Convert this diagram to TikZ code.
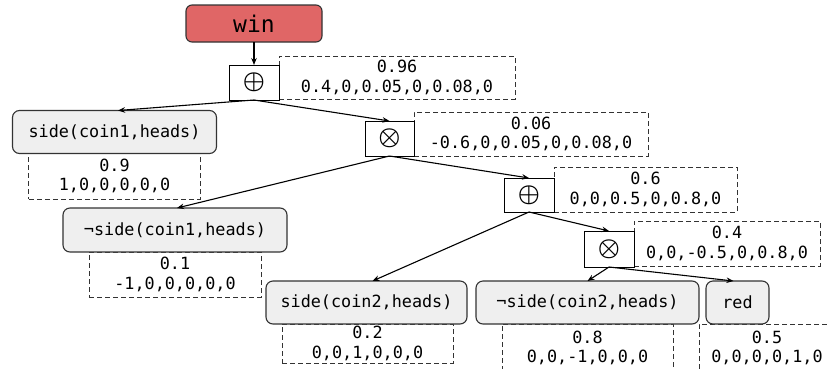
\documentclass[tikz,border=0pt]{standalone}
\usepackage{fontspec}
\usetikzlibrary{arrows.meta}
\newfontfamily\mono{DejaVu Sans Mono}
\definecolor{winred}{HTML}{E06666}
\definecolor{litgray}{HTML}{EFEFEF}
\definecolor{edgegray}{HTML}{333333}
\begin{document}
\begin{tikzpicture}[x=1bp,y=-1bp,
  base/.style={inner sep=0pt,outer sep=0pt,line width=1.1bp},
  lit/.style={base,draw=edgegray,fill=litgray,rounded corners=7bp,
     font=\mono\fontsize{16.8bp}{20bp}\selectfont},
  opbox/.style={base,line width=1bp,draw=black,fill=white,minimum width=50bp,minimum height=35bp,
     font=\fontsize{27bp}{27bp}\selectfont\boldmath},
  valbox/.style={base,line width=1bp,draw=edgegray,dash pattern=on 5bp off 3bp,align=center,
     font=\mono\fontsize{16.8bp}{19.5bp}\selectfont},
  conn/.style={line width=1.1bp,-{Stealth[length=7bp,width=5.5bp]}}
]
\useasboundingbox (0,0) rectangle (827,368);
\begin{scope}
\clip (0,0) rectangle (827,368);
% value boxes
\node[valbox,minimum width=236bp,minimum height=43bp] (d1) at (397,77.5) {0.96\\0.4,0,0.05,0,0.08,0};
\node[valbox,minimum width=234bp,minimum height=44bp] (d2) at (531,134) {0.06\\-0.6,0,0.05,0,0.08,0};
\node[valbox,minimum width=183bp,minimum height=45bp] (d3) at (645.5,189.5) {0.6\\0,0,0.5,0,0.8,0};
\node[valbox,minimum width=186bp,minimum height=45bp] (d4) at (727,243.5) {0.4\\0,0,-0.5,0,0.8,0};
\node[valbox,minimum width=171bp,minimum height=46bp] (dsc1) at (114.5,176) {0.9\\1,0,0,0,0,0};
\node[valbox,minimum width=172bp,minimum height=45bp] (dnsc1) at (175,274.5) {0.1\\-1,0,0,0,0,0};
\node[valbox,minimum width=171bp,minimum height=39bp] (dsc2) at (367.5,343.5) {0.2\\0,0,1,0,0,0};
\node[valbox,minimum width=171bp,minimum height=48bp] (dnsc2) at (587.5,348) {0.8\\0,0,-1,0,0,0};
\node[valbox,minimum width=136bp,minimum height=48bp] (dred) at (767,348) {0.5\\0,0,0,0,1,0};
% main nodes
\node[base,draw=black!80,fill=winred,rounded corners=6bp,minimum width=136bp,minimum height=37bp,
  font=\mono\fontsize{23bp}{24bp}\selectfont] (win) at (254,23.5) {win};
\node[opbox] (op1) at (254,82.5) {$\oplus$};
\node[opbox,minimum width=49bp] (op2) at (389.5,138.5) {$\otimes$};
\node[opbox,minimum height=34bp] (op3) at (529,195) {$\oplus$};
\node[opbox,minimum height=36bp] (op4) at (609,249) {$\otimes$};
\node[lit,minimum width=204bp,minimum height=43bp] (sc1) at (114.5,132) {side(coin1,heads)};
\node[lit,minimum width=224bp,minimum height=44bp] (nsc1) at (175,230) {¬side(coin1,heads)};
\node[lit,minimum width=201bp,minimum height=43bp] (sc2) at (366.5,302.5) {side(coin2,heads)};
\node[lit,minimum width=223bp,minimum height=43bp] (nsc2) at (587.5,302.5) {¬side(coin2,heads)};
\node[lit,minimum width=63bp,minimum height=43bp] (red) at (737.5,302.5) {red};
% connectors
\draw[conn] (win.south) -- (op1.north);
\draw[conn] (op1.south) -- ([xshift=3.5bp]sc1.north);
\draw[conn] (op1.south) -- (op2.north);
\draw[conn] (op2.south) -- ([xshift=2bp]nsc1.north);
\draw[conn] (op2.south) -- (op3.north);
\draw[conn] (op3.south) -- ([xshift=6bp]sc2.north);
\draw[conn] (op3.south) -- (op4.north);
\draw[conn] (op4.south) -- (nsc2.north);
\draw[conn] (op4.south) -- ([xshift=-4bp]red.north);
\end{scope}
\end{tikzpicture}
\end{document}
